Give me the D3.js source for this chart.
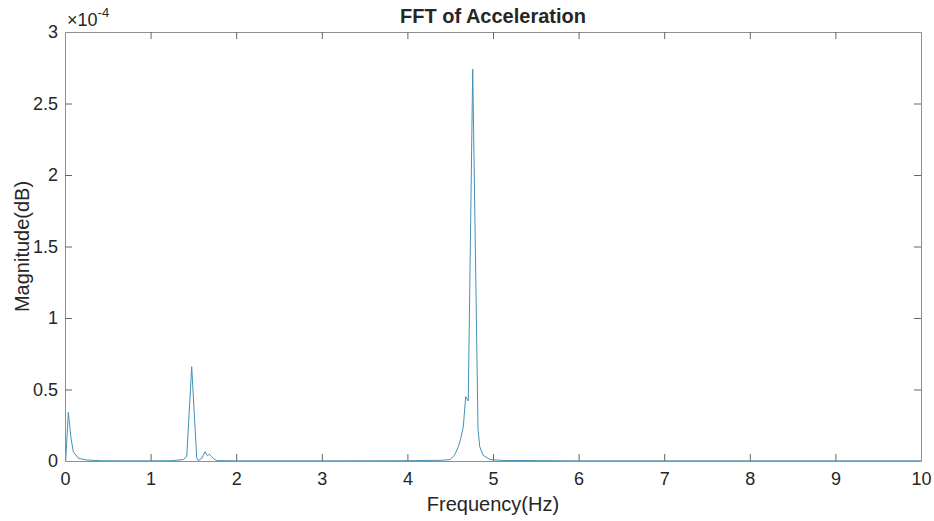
<!DOCTYPE html>
<html>
<head>
<meta charset="utf-8">
<script src="https://cdn.jsdelivr.net/npm/d3@7"></script>
<style>
  html, body { margin: 0; padding: 0; background: #fff; }
  svg text { font-family: "Liberation Sans", Arial, Helvetica, sans-serif; fill: #262626; }
</style>
</head>
<body>
<svg id="chart" width="934" height="521"></svg>
<script>
// Spectrum samples: frequency in Hz, magnitude in units of 1e-4
const freqHz = [0, 0.008, 0.039, 0.07, 0.097, 0.155, 0.25, 0.41, 0.7, 1.0, 1.25,
  1.382, 1.422, 1.48, 1.539, 1.557, 1.60, 1.636, 1.663, 1.686, 1.714, 1.74, 1.772,
  2.0, 3.0, 4.0, 4.4, 4.5, 4.55, 4.595, 4.62, 4.653, 4.681, 4.711, 4.763,
  4.825, 4.845, 4.885, 4.965, 5.1, 6.0, 7.0, 8.0, 9.0, 10.0];
const magE4 = [0, 0.0, 0.34, 0.16, 0.065, 0.02, 0.007, 0.002, 0.001, 0.001, 0.002,
  0.01, 0.03, 0.66, 0.02, 0.003, 0.02, 0.065, 0.037, 0.047, 0.03, 0.015, 0.003,
  0.001, 0.001, 0.002, 0.005, 0.01, 0.04, 0.10, 0.15, 0.24, 0.45, 0.42, 2.74,
  0.22, 0.10, 0.04, 0.01, 0.004, 0.001, 0.001, 0.001, 0.001, 0.001];
const xTicks = [0, 1, 2, 3, 4, 5, 6, 7, 8, 9, 10];
const yTicks = [0, 0.5, 1, 1.5, 2, 2.5, 3];
const titleText = "FFT of Acceleration";
const xLabel = "Frequency(Hz)";
const yLabel = "Magnitude(dB)";

const svg = d3.select("#chart");
const m = { left: 65, right: 13, top: 32, bottom: 60 };
const W = 934, H = 521;
const x = d3.scaleLinear().domain([0, 10]).range([m.left, W - m.right]);
const y = d3.scaleLinear().domain([0, 3]).range([H - m.bottom, m.top]);
const tickLen = 7;
const boxColor = "#8f8f8f";
const tickFont = 18;
const labelFont = 20;

// Spectrum line
const pts = freqHz.map((f, i) => [f, magE4[i]]);
svg.append("path")
  .datum(pts)
  .attr("fill", "none")
  .attr("stroke", "#4590b8")
  .attr("stroke-width", 1)
  .attr("stroke-linejoin", "round")
  .attr("d", d3.line().x(d => x(d[0])).y(d => y(d[1])));

// Axes with inward ticks (bottom/left labelled, top/right tick-only)
const fmt = d => String(d);
const xb = svg.append("g").attr("transform", `translate(0,${y(0)})`)
  .call(d3.axisBottom(x).tickValues(xTicks).tickFormat(fmt).tickSize(-tickLen).tickSizeOuter(0).tickPadding(11));
const xt = svg.append("g").attr("transform", `translate(0,${y(3)})`)
  .call(d3.axisTop(x).tickValues(xTicks).tickFormat("").tickSize(-tickLen).tickSizeOuter(0));
const yl = svg.append("g").attr("transform", `translate(${x(0)},0)`)
  .call(d3.axisLeft(y).tickValues(yTicks).tickFormat(fmt).tickSize(-tickLen).tickSizeOuter(0).tickPadding(7));
const yr = svg.append("g").attr("transform", `translate(${x(10)},0)`)
  .call(d3.axisRight(y).tickValues(yTicks).tickFormat("").tickSize(-tickLen).tickSizeOuter(0));

[xb, xt, yl, yr].forEach(g => {
  g.select(".domain").attr("stroke", boxColor).attr("stroke-width", 1);
  g.selectAll(".tick line").attr("stroke", "#666").attr("stroke-width", 1);
  g.selectAll(".tick text").attr("font-size", tickFont).attr("fill", "#262626")
    .style("font-family", "'Liberation Sans', Arial, sans-serif");
});
// remove edge ticks that sit on the box corners
[xb, xt].forEach(g => g.selectAll(".tick line").filter(d => d === 0 || d === 10).remove());
[yl, yr].forEach(g => g.selectAll(".tick line").filter(d => d === 0 || d === 3).remove());

// Exponent multiplier
const ex = svg.append("text").attr("x", x(0) + 2).attr("y", y(3) - 6).attr("font-size", tickFont);
ex.append("tspan").text("\u00d710");
ex.append("tspan").attr("dy", -9).attr("font-size", 13).text("-4");

// Title and axis labels
svg.append("text").attr("x", (x(0) + x(10)) / 2).attr("y", 23)
  .attr("text-anchor", "middle").attr("font-size", labelFont).attr("font-weight", "bold").text(titleText);
svg.append("text").attr("x", (x(0) + x(10)) / 2).attr("y", 511)
  .attr("text-anchor", "middle").attr("font-size", labelFont).text(xLabel);
svg.append("text").attr("transform", `translate(29,${(y(0) + y(3)) / 2}) rotate(-90)`)
  .attr("text-anchor", "middle").attr("font-size", labelFont).text(yLabel);
</script>
</body>
</html>
